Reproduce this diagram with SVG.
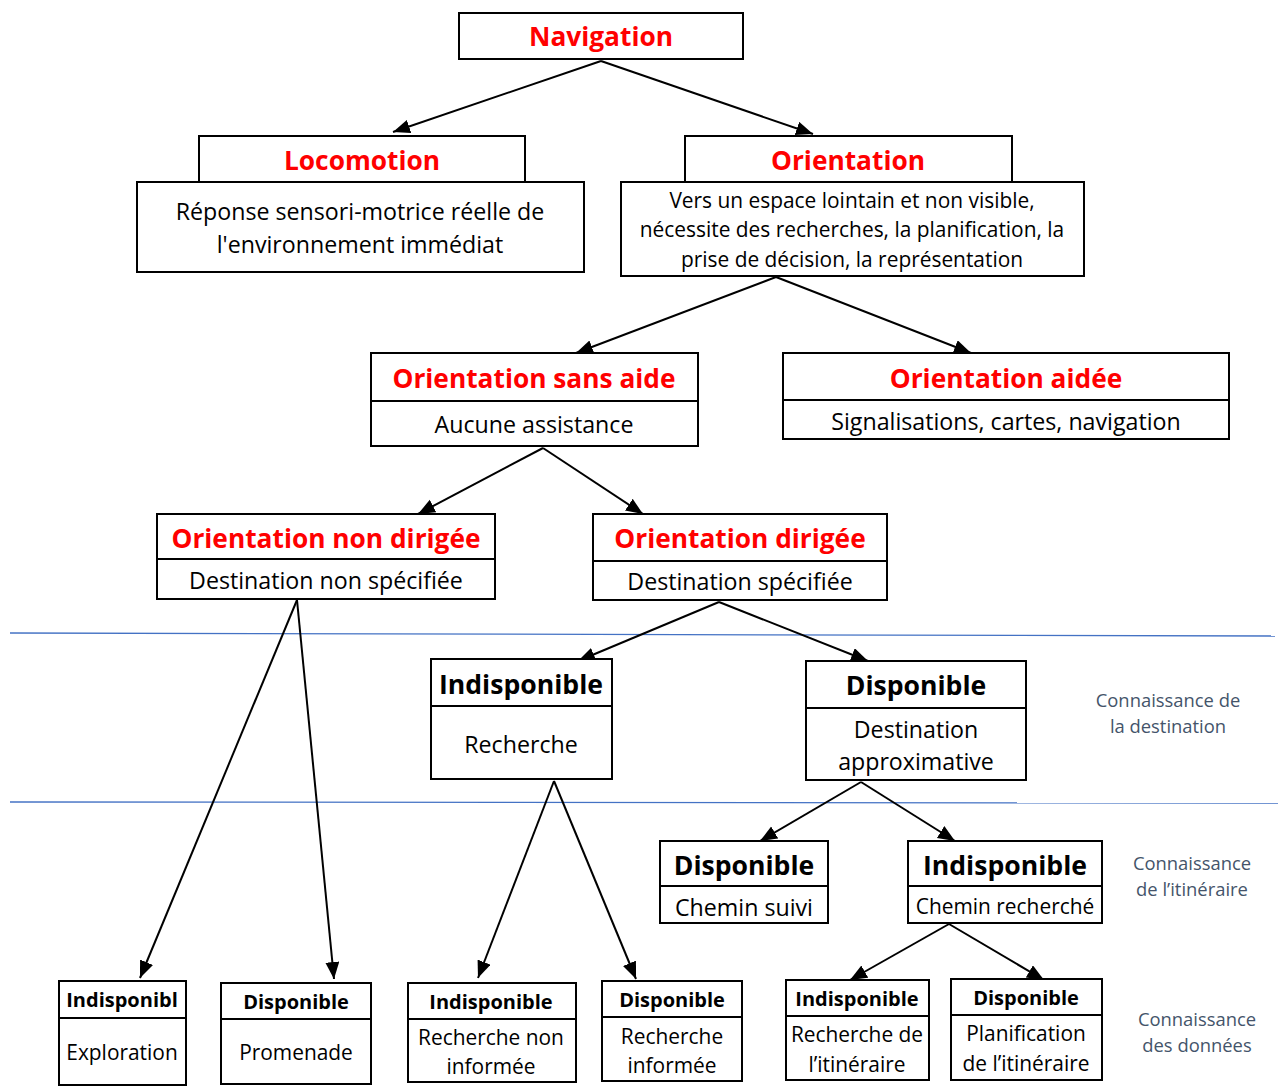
<svg xmlns="http://www.w3.org/2000/svg" width="1283" height="1092" viewBox="0 0 1283 1092">
<defs>
<style>
.box{fill:#fff;stroke:#000;stroke-width:2}
.div{stroke:#000;stroke-width:2}
.rt{font-family:"Open Sans",sans-serif;font-weight:bold;fill:#ff0000;font-size:26.3px;text-anchor:middle}
.bt{font-family:"Open Sans",sans-serif;font-weight:bold;fill:#000;font-size:26.6px;text-anchor:middle}
.bs{font-family:"Open Sans",sans-serif;font-weight:bold;fill:#000;font-size:20px;text-anchor:middle}
.t{font-family:"Open Sans",sans-serif;fill:#000;font-size:23.2px;text-anchor:middle}
.ts{font-family:"Open Sans",sans-serif;fill:#000;font-size:20.9px;text-anchor:middle}
.lab{font-family:"Open Sans",sans-serif;fill:#44546A;font-size:18.4px;text-anchor:middle}
.c{stroke:#000;stroke-width:2;fill:none;marker-end:url(#ah)}
.sep{stroke:#4472C4;stroke-width:1.3}
</style>
<marker id="ah" markerUnits="userSpaceOnUse" markerWidth="20" markerHeight="16" refX="17" refY="7" orient="auto">
<path d="M0,0 L17,7 L0,14 Z" fill="#000"/>
</marker>
</defs>
<rect width="1283" height="1092" fill="#fff"/>
<g id="separators">
<line class="sep" x1="10" y1="633" x2="1275" y2="636"/>
<line class="sep" x1="10" y1="802" x2="1278" y2="803"/>
</g>
<g id="connectors">
<line class="c" x1="601" y1="61" x2="393" y2="132"/>
<line class="c" x1="601" y1="61" x2="813" y2="134"/>
<line class="c" x1="776" y1="277" x2="576" y2="353"/>
<line class="c" x1="776" y1="277" x2="971" y2="353"/>
<line class="c" x1="543" y1="448" x2="418" y2="514"/>
<line class="c" x1="543" y1="448" x2="643" y2="514"/>
<line class="c" x1="719" y1="602" x2="578" y2="661"/>
<line class="c" x1="719" y1="602" x2="868" y2="661"/>
<line class="c" x1="297" y1="600" x2="140" y2="978"/>
<line class="c" x1="297" y1="600" x2="334" y2="979"/>
<line class="c" x1="554" y1="781" x2="478" y2="978"/>
<line class="c" x1="554" y1="781" x2="636" y2="979"/>
<line class="c" x1="861" y1="782" x2="760" y2="841"/>
<line class="c" x1="861" y1="782" x2="955" y2="841"/>
<line class="c" x1="949" y1="924" x2="850" y2="980"/>
<line class="c" x1="949" y1="924" x2="1044" y2="980"/>
</g>
<g id="navigation">
<rect class="box" x="459" y="13" width="284" height="46"/>
<text class="rt" x="601" y="46">Navigation</text>
</g>
<g id="locomotion">
<rect class="box" x="199" y="136" width="326" height="46"/>
<text class="rt" x="362" y="170">Locomotion</text>
<rect class="box" x="137" y="182" width="447" height="90"/>
<text class="t" x="360" y="220">Réponse sensori-motrice réelle de</text>
<text class="t" x="360" y="253">l'environnement immédiat</text>
</g>
<g id="orientation">
<rect class="box" x="685" y="136" width="327" height="46"/>
<text class="rt" x="848" y="170">Orientation</text>
<rect class="box" x="621" y="182" width="463" height="94"/>
<text class="ts" x="852" y="208">Vers un espace lointain et non visible,</text>
<text class="ts" x="852" y="237">nécessite des recherches, la planification, la</text>
<text class="ts" x="852" y="267">prise de décision, la représentation</text>
</g>
<g id="orientation-sans-aide">
<rect class="box" x="371" y="353" width="327" height="93"/>
<line class="div" x1="371" y1="401" x2="698" y2="401"/>
<text class="rt" x="534" y="388">Orientation sans aide</text>
<text class="t" x="534" y="433">Aucune assistance</text>
</g>
<g id="orientation-aidee">
<rect class="box" x="783" y="353" width="446" height="86"/>
<line class="div" x1="783" y1="400" x2="1229" y2="400"/>
<text class="rt" x="1006" y="388">Orientation aidée</text>
<text class="t" x="1006" y="430">Signalisations, cartes, navigation</text>
</g>
<g id="orientation-non-dirigee">
<rect class="box" x="157" y="514" width="338" height="85"/>
<line class="div" x1="157" y1="559" x2="495" y2="559"/>
<text class="rt" x="326" y="548">Orientation non dirigée</text>
<text class="t" x="326" y="589">Destination non spécifiée</text>
</g>
<g id="orientation-dirigee">
<rect class="box" x="593" y="514" width="294" height="86"/>
<line class="div" x1="593" y1="561" x2="887" y2="561"/>
<text class="rt" x="740" y="548">Orientation dirigée</text>
<text class="t" x="740" y="590">Destination spécifiée</text>
</g>
<g id="dest-indisponible">
<rect class="box" x="431" y="659" width="181" height="120"/>
<line class="div" x1="431" y1="706" x2="612" y2="706"/>
<text class="bt" x="521" y="694">Indisponible</text>
<text class="t" x="521" y="753">Recherche</text>
</g>
<g id="dest-disponible">
<rect class="box" x="806" y="661" width="220" height="119"/>
<line class="div" x1="806" y1="708" x2="1026" y2="708"/>
<text class="bt" x="916" y="695">Disponible</text>
<text class="t" x="916" y="738">Destination</text>
<text class="t" x="916" y="770">approximative</text>
</g>
<g id="itin-disponible">
<rect class="box" x="660" y="841" width="168" height="82"/>
<line class="div" x1="660" y1="886" x2="828" y2="886"/>
<text class="bt" x="744" y="875">Disponible</text>
<text class="t" x="744" y="916">Chemin suivi</text>
</g>
<g id="itin-indisponible">
<rect class="box" x="908" y="841" width="194" height="82"/>
<line class="div" x1="908" y1="886" x2="1102" y2="886"/>
<text class="bt" x="1005" y="875">Indisponible</text>
<text class="ts" x="1005" y="914">Chemin recherché</text>
</g>
<g id="exploration">
<rect class="box" x="59" y="981" width="127" height="104"/>
<line class="div" x1="59" y1="1018" x2="186" y2="1018"/>
<text class="bs" x="122" y="1007">Indisponibl</text>
<text class="ts" x="122" y="1060">Exploration</text>
</g>
<g id="promenade">
<rect class="box" x="221" y="983" width="150" height="101"/>
<line class="div" x1="221" y1="1019" x2="371" y2="1019"/>
<text class="bs" x="296" y="1009">Disponible</text>
<text class="ts" x="296" y="1060">Promenade</text>
</g>
<g id="recherche-non-informee">
<rect class="box" x="408" y="983" width="168" height="99"/>
<line class="div" x1="408" y1="1019" x2="576" y2="1019"/>
<text class="bs" x="491" y="1009">Indisponible</text>
<text class="ts" x="491" y="1045">Recherche non</text>
<text class="ts" x="491" y="1074">informée</text>
</g>
<g id="recherche-informee">
<rect class="box" x="602" y="981" width="140" height="100"/>
<line class="div" x1="602" y1="1017" x2="742" y2="1017"/>
<text class="bs" x="672" y="1007">Disponible</text>
<text class="ts" x="672" y="1044">Recherche</text>
<text class="ts" x="672" y="1073">informée</text>
</g>
<g id="recherche-itineraire">
<rect class="box" x="786" y="980" width="143" height="100"/>
<line class="div" x1="786" y1="1016" x2="929" y2="1016"/>
<text class="bs" x="857" y="1006">Indisponible</text>
<text class="ts" x="857" y="1042">Recherche de</text>
<text class="ts" x="857" y="1072">l’itinéraire</text>
</g>
<g id="planification-itineraire">
<rect class="box" x="951" y="979" width="151" height="101"/>
<line class="div" x1="951" y1="1015" x2="1102" y2="1015"/>
<text class="bs" x="1026" y="1005">Disponible</text>
<text class="ts" x="1026" y="1041">Planification</text>
<text class="ts" x="1026" y="1071">de l’itinéraire</text>
</g>
<g id="labels">
<text class="lab" x="1168" y="707">Connaissance de</text>
<text class="lab" x="1168" y="733">la destination</text>
<text class="lab" x="1192" y="870">Connaissance</text>
<text class="lab" x="1192" y="896">de l’itinéraire</text>
<text class="lab" x="1197" y="1026">Connaissance</text>
<text class="lab" x="1197" y="1052">des données</text>
</g>
</svg>
